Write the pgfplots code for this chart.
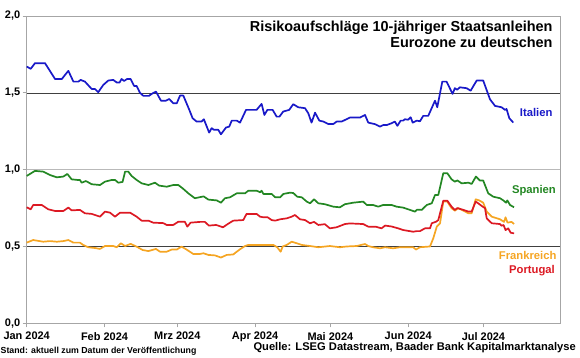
\documentclass[border=0pt]{standalone}
\usepackage{pgfplots}
\pgfplotsset{compat=1.18}
\usepackage{fontspec}
\setmainfont{Liberation Sans}
\definecolor{cIT}{RGB}{25,25,200}
\definecolor{cES}{RGB}{35,135,35}
\definecolor{cPT}{RGB}{220,25,35}
\definecolor{cFR}{RGB}{245,165,35}
\begin{document}
\begin{tikzpicture}
\path[use as bounding box] (0,0) rectangle (580bp,358bp);
\begin{axis}[
  at={(26.7bp,34.7bp)}, anchor=south west, scale only axis,
  width=533.3bp, height=307.3bp,
  xmin=0, xmax=212.5, ymin=0, ymax=2,
  xtick={0,31,60,91,121,152,182},
  xticklabels={Jan 2024,Feb 2024,Mrz 2024,Apr 2024,Mai 2024,Jun 2024,Jul 2024},
  ytick={0,0.5,1,1.5,2},
  yticklabels={{0,0},{0,5},{1,0},{1,5},{2,0}},
  xtick pos=bottom, ytick pos=left, tick align=outside,
  major tick length=4bp,
  tick style={gray!70, line width=0.8bp},
  axis line style={gray!70, line width=0.8bp},
  ymajorgrids, grid style={black!75, line width=0.6bp},
  /pgf/number format/assume math mode=true,
  tick label style={font=\bfseries\fontsize{11}{12}\selectfont},
  xticklabel style={yshift=-1.5bp},
  yticklabel style={xshift=1bp},
  clip=false,
  every axis plot/.append style={line width=1.7bp, line join=round},
]
\draw[gray!55, line width=1.3bp] (axis cs:0,1) -- (axis cs:212.5,1);
\addplot[cFR, mark=none] coordinates {
(0,0.525)(2.6,0.542)(6.6,0.531)(9.3,0.535)(12,0.531)(14.6,0.535)(16.6,0.542)(18.6,0.525)(21.2,0.525)(22.5,0.510)(24.5,0.495)(27.2,0.490)(29.2,0.484)(31.2,0.503)(34.5,0.503)(35.9,0.495)(37.5,0.521)(39.2,0.503)(41.4,0.517)(43.8,0.499)(46.2,0.477)(48.5,0.470)(51.5,0.484)(53.1,0.466)(55.8,0.466)(57.8,0.480)(59.8,0.480)(61.7,0.499)(63.7,0.480)(66.4,0.451)(69,0.451)(70.4,0.456)(72.4,0.445)(75,0.442)(77.4,0.428)(79.7,0.445)(82.3,0.448)(83.7,0.466)(85,0.482)(87,0.503)(88.3,0.510)(98.3,0.510)(99.8,0.495)(101.2,0.466)(102,0.500)(103.6,0.510)(105.6,0.531)(107.6,0.521)(109.6,0.510)(112.9,0.503)(116.2,0.495)(120.8,0.503)(124.8,0.495)(127.5,0.500)(131.5,0.503)(134.8,0.516)(136.1,0.503)(138,0.495)(140.8,0.488)(142.8,0.495)(146,0.488)(148.7,0.495)(151.4,0.495)(154,0.495)(155.1,0.480)(156.7,0.495)(160.7,0.500)(162,0.553)(163.4,0.629)(164.7,0.651)(166,0.792)(167.6,0.792)(169.3,0.749)(170.6,0.733)(172,0.749)(174,0.733)(176,0.716)(177.3,0.716)(178.9,0.807)(180.3,0.800)(181.9,0.785)(183.3,0.727)(185.3,0.694)(188.6,0.677)(190.2,0.660)(190.8,0.690)(191.6,0.655)(193.2,0.660)(194.2,0.646)
};
\addplot[cPT, mark=none] coordinates {
(0,0.755)(1.6,0.742)(2.6,0.770)(6,0.770)(8.6,0.742)(11.3,0.731)(14.6,0.731)(16.6,0.753)(17.9,0.735)(21.2,0.738)(23.2,0.716)(25.9,0.712)(29.2,0.694)(31.2,0.727)(33.2,0.720)(35.2,0.694)(37.2,0.720)(41.2,0.720)(43.8,0.694)(45.8,0.668)(48.5,0.668)(50.4,0.655)(54.4,0.652)(55.8,0.640)(58.4,0.640)(60.4,0.661)(63,0.661)(64,0.629)(65.3,0.655)(69,0.660)(71,0.660)(72.6,0.636)(75.5,0.640)(78.2,0.625)(80.3,0.648)(82.3,0.668)(86.3,0.672)(87.6,0.712)(91.6,0.712)(93,0.694)(94.3,0.690)(96,0.690)(97.6,0.672)(99,0.668)(101,0.677)(103.6,0.683)(105.6,0.694)(106.9,0.705)(108.9,0.677)(110.9,0.672)(112.9,0.651)(114.5,0.660)(116.2,0.640)(118.8,0.645)(120.8,0.618)(123.5,0.625)(126.8,0.646)(128.8,0.650)(134.1,0.646)(136.1,0.629)(139,0.629)(141.4,0.618)(142.8,0.636)(145.4,0.630)(148,0.618)(150,0.607)(154,0.596)(155.4,0.600)(156.7,0.600)(158.7,0.618)(160.7,0.618)(161.4,0.651)(163.1,0.661)(164,0.672)(166,0.798)(167.6,0.798)(169.3,0.759)(170.6,0.738)(171.6,0.750)(174,0.738)(176,0.727)(177.3,0.727)(178.9,0.792)(180,0.780)(181.7,0.759)(182.6,0.750)(183.3,0.683)(185.3,0.651)(188.6,0.646)(189.2,0.635)(190,0.640)(190.8,0.607)(191.9,0.618)(192.8,0.590)(194.2,0.585)
};
\addplot[cES, mark=none] coordinates {
(0,0.959)(1.3,0.972)(3.3,0.992)(6.6,0.987)(9.3,0.965)(12,0.950)(14.6,0.955)(16.2,0.972)(17.9,0.937)(20.2,0.933)(21.2,0.933)(21.9,0.915)(23.6,0.926)(25.9,0.905)(29.2,0.900)(31.2,0.922)(33.9,0.933)(35.2,0.933)(36.5,0.915)(38.2,0.920)(39.2,0.987)(40.5,0.987)(41.8,0.959)(43.8,0.933)(45.8,0.911)(48.5,0.900)(51.1,0.915)(52.8,0.896)(55.8,0.889)(58.4,0.900)(60.4,0.900)(62.1,0.879)(64.4,0.846)(67,0.814)(70.5,0.826)(72.4,0.805)(75.7,0.800)(77.4,0.785)(79,0.814)(81,0.820)(83.7,0.846)(87,0.846)(88.3,0.863)(91.6,0.863)(93,0.853)(93.6,0.863)(94.3,0.842)(97.6,0.842)(99,0.820)(101,0.820)(102.3,0.842)(104.9,0.850)(106.2,0.848)(107.8,0.824)(109.6,0.820)(111.6,0.792)(112.9,0.781)(114.5,0.807)(116.2,0.781)(118.8,0.775)(122.2,0.759)(124.8,0.755)(126.8,0.775)(130.1,0.785)(134.1,0.792)(135.5,0.770)(138,0.770)(140.1,0.759)(142,0.770)(145.4,0.770)(147.4,0.759)(150,0.753)(152.7,0.738)(154.7,0.727)(155.6,0.740)(157.4,0.738)(159.4,0.770)(161.4,0.781)(162.7,0.835)(164,0.835)(166,0.977)(167.6,0.977)(169.3,0.937)(170.6,0.922)(171.6,0.930)(173.3,0.911)(176,0.915)(177.3,0.907)(179,0.955)(180.6,0.929)(181.9,0.929)(183.9,0.846)(185.9,0.824)(188.6,0.814)(189.9,0.800)(191,0.785)(191.5,0.800)(192.6,0.770)(194.2,0.755)
};
\addplot[cIT, mark=none] coordinates {
(0,1.671)(1.6,1.656)(3.3,1.693)(7.3,1.693)(11.3,1.590)(14,1.590)(15.3,1.617)(16.6,1.643)(18.6,1.573)(20.6,1.573)(21.5,1.584)(23.2,1.573)(25.9,1.525)(27.2,1.525)(28.5,1.504)(30.5,1.551)(32.5,1.580)(34.5,1.584)(35.9,1.567)(37,1.567)(37.8,1.590)(38.8,1.577)(40,1.590)(41.4,1.590)(42.8,1.545)(43.8,1.545)(45.1,1.501)(46.5,1.480)(48.7,1.480)(49.8,1.493)(51.5,1.508)(53.5,1.449)(55.5,1.449)(56.8,1.460)(58.4,1.432)(59.8,1.432)(61.1,1.482)(62.4,1.482)(64.8,1.389)(66.1,1.335)(67.7,1.313)(69.7,1.313)(70.6,1.328)(72.7,1.241)(73.7,1.270)(74.5,1.260)(76.3,1.260)(77.4,1.230)(79.4,1.274)(80.7,1.280)(81.7,1.319)(83.7,1.319)(85,1.306)(87.4,1.389)(91.6,1.389)(93.6,1.428)(94.7,1.356)(95.9,1.389)(98,1.389)(99.6,1.345)(100.7,1.345)(102.2,1.378)(104.6,1.389)(106.2,1.426)(108.2,1.406)(110.9,1.400)(112.2,1.367)(113.5,1.306)(114.9,1.371)(116.6,1.319)(118.2,1.313)(120.2,1.297)(122.2,1.297)(123.5,1.313)(125.5,1.313)(128.8,1.339)(132.8,1.339)(134.8,1.356)(136.1,1.306)(138.8,1.296)(140.8,1.280)(142,1.290)(143.4,1.290)(145.4,1.302)(146.7,1.313)(147.7,1.285)(149,1.319)(150,1.319)(150.7,1.328)(152,1.325)(153,1.341)(153.8,1.306)(155.4,1.319)(156.7,1.315)(158,1.350)(160,1.350)(162.7,1.449)(163.6,1.406)(165.6,1.573)(167.3,1.573)(169.7,1.493)(170.6,1.530)(171.5,1.520)(172.6,1.536)(175.3,1.530)(176.9,1.514)(179.3,1.580)(181.9,1.580)(184.6,1.458)(186.6,1.415)(189.2,1.406)(190.6,1.389)(191.2,1.395)(192.3,1.335)(193.9,1.306)
};
\end{axis}
\begin{scope}[every node/.style={inner sep=0pt, font=\bfseries\fontsize{11.3}{13}\selectfont}]
\node[anchor=east, text=cIT] at (552.7bp,245.7bp) {Italien};
\node[anchor=east, text=cES] at (556bp,167bp) {Spanien};
\node[anchor=east, text=cFR] at (556.7bp,102.3bp) {Frankreich};
\node[anchor=east, text=cPT] at (555bp,87.3bp) {Portugal};
\end{scope}
\node[anchor=north east, align=right, inner sep=0pt, font=\bfseries\fontsize{14.5}{16}\selectfont] at (552.7bp,337.5bp) {Risikoaufschläge 10-jähriger Staatsanleihen\\Eurozone zu deutschen};
\node[anchor=west, inner sep=0pt, font=\bfseries\fontsize{8.8}{10}\selectfont] at (0.5bp,6.5bp) {Stand: aktuell zum Datum der Veröffentlichung};
\node[anchor=east, inner sep=0pt, font=\bfseries\fontsize{11.2}{13}\selectfont] at (576bp,10bp) {Quelle: LSEG Datastream, Baader Bank Kapitalmarktanalyse};
\end{tikzpicture}
\end{document}
